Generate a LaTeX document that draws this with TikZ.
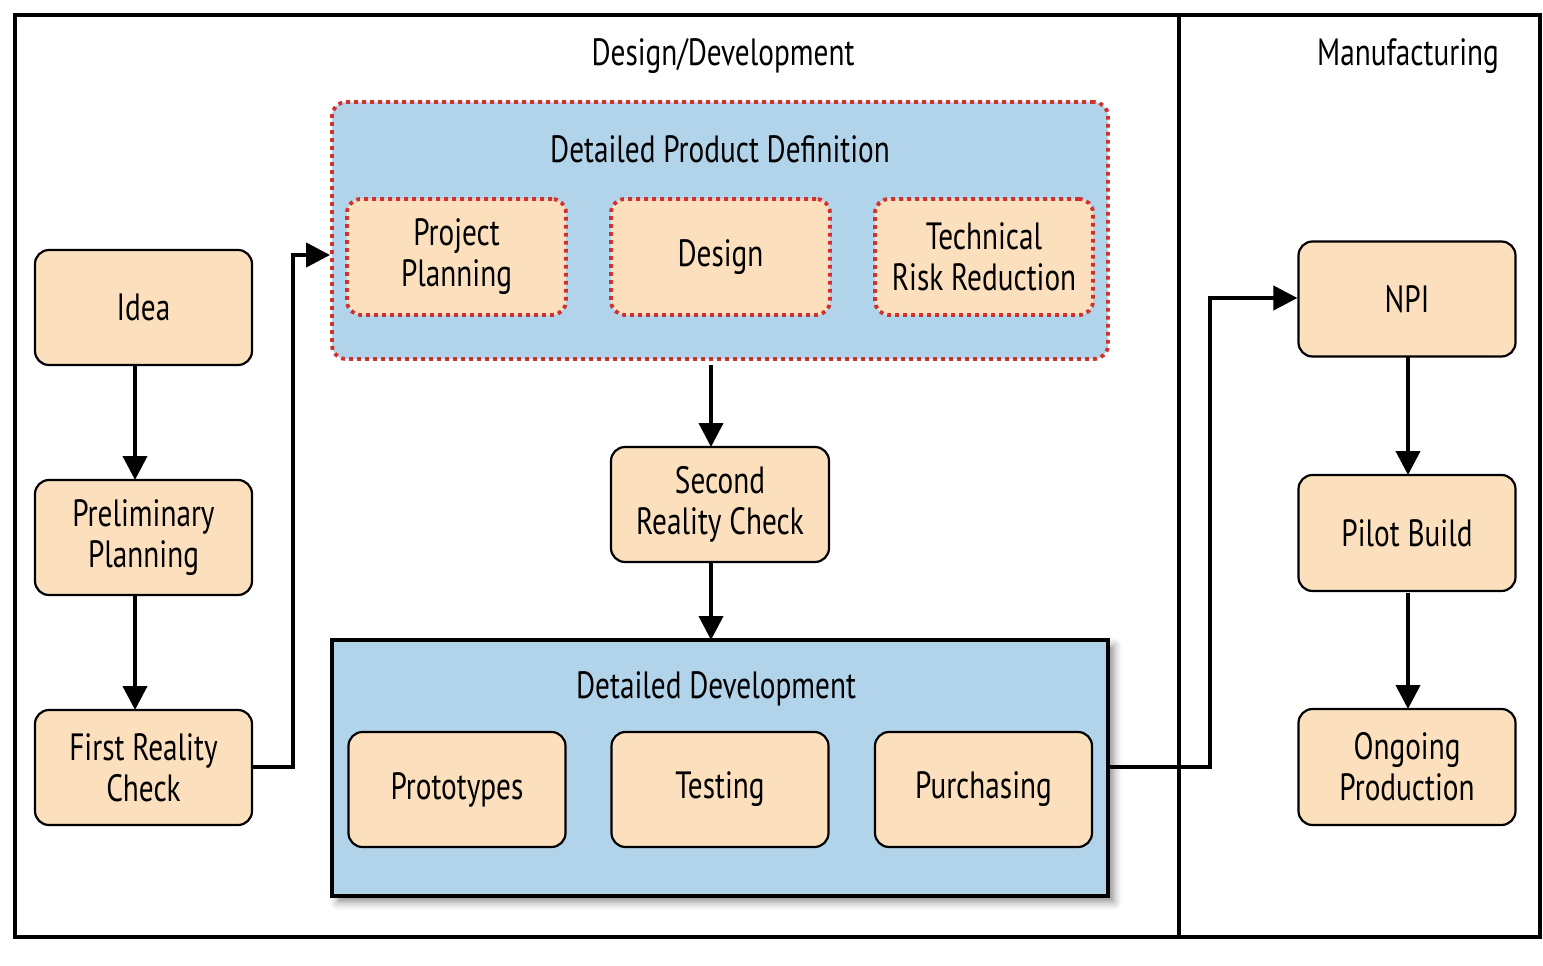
\documentclass[tikz,border=0pt]{standalone}
\usepackage{fontspec}
\setmainfont{PT Sans}[FakeStretch=0.77]
\usetikzlibrary{arrows.meta,shadows.blur}
\definecolor{boxorange}{HTML}{FCDFBD}
\definecolor{boxblue}{HTML}{B2D4EA}
\definecolor{dotred}{HTML}{D0312D}
\tikzset{
  proc/.style={draw=black, line width=2.2pt, fill=boxorange, rounded corners=14pt,
    minimum width=217pt, minimum height=115pt, align=center, inner sep=0pt,
    font=\fontsize{38}{41}\selectfont},
  dotbox/.style={draw=dotred, line width=3.8pt, dash pattern=on 3.8pt off 4.2pt, rounded corners=14pt},
  conn/.style={line width=4pt, -{Triangle[length=24pt,width=24pt]}},
  title/.style={font=\fontsize{38}{41}\selectfont, inner sep=0pt},
}
\begin{document}
\begin{tikzpicture}[x=1pt,y=-1pt]
\useasboundingbox (0,0) rectangle (1543,966);
% outer frame
\draw[line width=4pt] (15,15) rectangle (1540,937);
\draw[line width=4pt] (1179,15) -- (1179,937);
\node[title] (dd) at (723,56) {Design/Development};
\node[title] (mf) at (1408,56) {Manufacturing};
% detailed product definition
\node[dotbox, fill=boxblue, minimum width=776pt, minimum height=257pt, inner sep=0pt] (dpd) at (720,230.5) {};
\node[title] (dpdt) at (720,149) {Detailed Product Definition};
\node[proc, dotbox, fill=boxorange, minimum width=219pt, minimum height=116pt] (pp) at (456.5,257) {Project\\Planning};
\node[proc, dotbox, fill=boxorange, minimum width=219pt, minimum height=116pt] (des) at (720.5,257) {Design};
\node[proc, dotbox, fill=boxorange, minimum width=218pt, minimum height=116pt] (trr) at (984,257) {Technical\\Risk Reduction};
% detailed development
\node[draw=black, line width=4pt, fill=boxblue, minimum width=776pt, minimum height=256pt, inner sep=0pt,
  blur shadow={shadow xshift=6pt, shadow yshift=-6pt, shadow blur radius=8pt, shadow opacity=45}] (ddv) at (720,768) {};
\node[title] (ddvt) at (716,689) {Detailed Development};
\node[proc] (proto) at (457,789.5) {Prototypes};
\node[proc] (test) at (720,789.5) {Testing};
\node[proc] (purch) at (983.5,789.5) {Purchasing};
% left column
\node[proc] (idea) at (143.5,307.5) {Idea};
\node[proc] (prel) at (143.5,537.5) {Preliminary\\Planning};
\node[proc] (frc) at (143.5,767.5) {First Reality\\Check};
% second reality check
\node[proc, minimum width=218pt] (src) at (720,504.5) {Second\\Reality Check};
% manufacturing column
\node[proc] (npi) at (1407,299) {NPI};
\node[proc, minimum height=116pt] (pb) at (1407,533) {Pilot Build};
\node[proc, minimum height=116pt] (op) at (1407,767) {Ongoing\\Production};
% connectors
\draw[conn] (135,365) -- (135,480);
\draw[conn] (135,595) -- (135,710);
\coordinate (b1) at (293,767);
\coordinate (b2) at (293,255);
\draw[conn] (frc.east |- b1) -- (b1) -- (b2) -- (dpd.west |- b2);
\draw[conn] (711,365) -- (711,447);
\draw[conn] (711,562) -- (711,640);
\coordinate (c1) at (1210,767);
\coordinate (c2) at (1210,298);
\draw[conn] (ddv.east |- c1) -- (c1) -- (c2) -- (npi.west |- c2);
\draw[conn] (1408,357) -- (1408,475);
\draw[conn] (1408,593) -- (1408,709);
\end{tikzpicture}
\end{document}
